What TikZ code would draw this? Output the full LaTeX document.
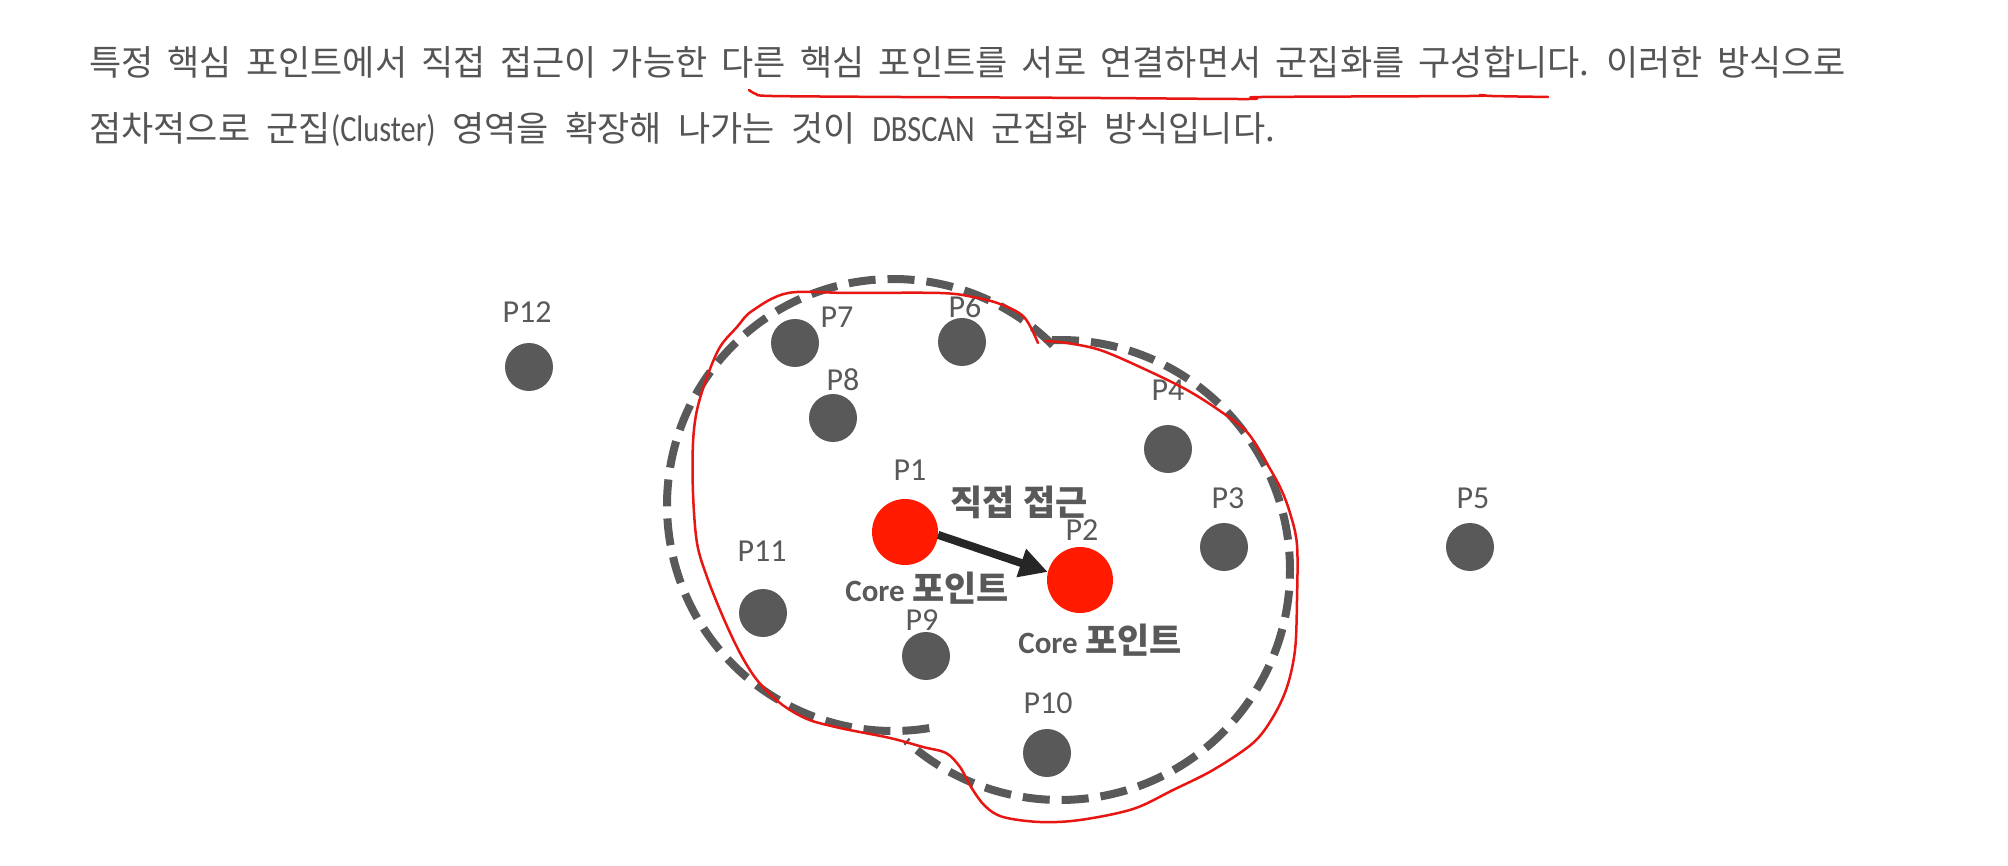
\documentclass[tikz,border=0pt]{standalone}
\usepackage{fontspec}
\setmainfont{Carlito}
\newfontfamily\kr{Noto Sans CJK KR}
\usetikzlibrary{arrows.meta}
\definecolor{dotgray}{HTML}{595959}
\definecolor{txtgray}{HTML}{555555}
\definecolor{corered}{RGB}{255,26,0}
\definecolor{penred}{RGB}{232,22,18}
\definecolor{arrowdark}{HTML}{262626}
\newcommand{\lat}[1]{\scalebox{0.82}[1]{\rmfamily\fontsize{37}{40}\selectfont #1}}
\newcommand{\corept}{{\fontsize{31}{36}\selectfont Core} {\kr\fontsize{35}{36}\selectfont 포인트}}
\newcommand{\widesp}[1]{\spaceskip=#1 plus 0pt minus 0pt\relax}
\begin{document}
\begin{tikzpicture}[x=1pt,y=-1pt,
  gdot/.style={circle,fill=dotgray,minimum size=48pt,inner sep=0pt},
  rdot/.style={circle,fill=corered,minimum size=66pt,inner sep=0pt},
  plabel/.style={text=dotgray,font=\fontsize{32}{36}\selectfont,inner sep=0pt},
  blabel/.style={text=dotgray,font=\fontsize{32}{36}\selectfont\bfseries,inner sep=0pt},
  para/.style={text=txtgray,font=\kr\fontsize{35}{40}\selectfont,inner sep=0pt,anchor=base west},
  clusterline/.style={draw=dotgray,line width=8pt,dash pattern=on 27pt off 12pt},
  penline/.style={draw=penred,line width=2.5pt,line cap=round,line join=round},
  reach/.style={draw=arrowdark,line width=8pt,-{Triangle[length=28pt,width=28pt]}}
]
\useasboundingbox (0,0) rectangle (2008,866);
\fill[white] (0,0) rectangle (2008,866);

% paragraph
\node[para] (line1) at (89,76) {\widesp{14.2pt}특정 핵심 포인트에서 직접 접근이 가능한 다른 핵심 포인트를 서로 연결하면서 군집화를 구성합니다. 이러한 방식으로};
\node[para] (line2) at (89,142) {\widesp{16.5pt}점차적으로 군집\lat{(Cluster)} 영역을 확장해 나가는 것이 \lat{DBSCAN} 군집화 방식입니다.};

% cluster outline (dashed)
\draw[clusterline] (893,505) ++(-45:226) arc[start angle=-45,end angle=-282,radius=226];
\draw[clusterline] (1060,570) ++(-92:230) arc[start angle=-92,end angle=132,radius=230];

% points
\node[gdot] (p12) at (529,367) {};
\node[gdot] (p7) at (795,343) {};
\node[gdot] (p6) at (962,342) {};
\node[gdot] (p8) at (833,418) {};
\node[gdot] (p4) at (1168,449) {};
\node[gdot] (p3) at (1224,547) {};
\node[gdot] (p5) at (1470,547) {};
\node[gdot] (p11) at (763,613) {};
\node[gdot] (p9) at (926,656) {};
\node[gdot] (p10) at (1047,753) {};
\node[rdot] (p1) at (905,532) {};
\node[rdot] (p2) at (1080,580) {};

% labels
\node[plabel] (l12) at (527,312) {P12};
\node[plabel] (l7) at (837,317) {P7};
\node[plabel] (l6) at (965,307) {P6};
\node[plabel] (l8) at (843,380) {P8};
\node[plabel] (l4) at (1168,390) {P4};
\node[plabel] (l1) at (910,470) {P1};
\node[plabel] (l3) at (1228,498) {P3};
\node[plabel] (l5) at (1473,498) {P5};
\node[plabel] (l2) at (1082,530) {P2};
\node[plabel] (l11) at (762,551) {P11};
\node[plabel] (l9) at (922,620) {P9};
\node[plabel] (l10) at (1048,703) {P10};

\node[blabel,font=\kr\fontsize{35}{36}\selectfont\bfseries] (direct) at (1019,502) {직접 접근};
\node[blabel] (core1) at (927,588) {\corept};
\node[blabel] (core2) at (1100,640) {\corept};

% arrow
\draw[reach] (p1.-5) -- (p2.166);

% red hand-drawn outline
\draw[penline] plot[smooth,tension=0.55] coordinates {(1045,341) (1067,343) (1100,350) (1140,367) (1187,390) (1223,413) (1247,432) (1263,457) (1280,487) (1290,513) (1297,545) (1297,600) (1295,650) (1287,687) (1273,717) (1253,743) (1213,770) (1173,790) (1133,809) (1080,820) (1040,822) (1003,817) (985,806) (971,787) (960,767) (946,753) (923,747) (890,738) (840,728) (807,719) (780,703) (757,680) (740,653) (723,617) (707,577) (697,543) (693,493) (693,443) (697,410) (707,377) (720,347) (737,327) (752,311) (788,293) (850,293) (940,293) (973,297) (1000,304) (1024,317) (1038,343)};

% red underline in the paragraph
\draw[penline] plot[smooth,tension=0.5] coordinates {(749,90) (756,94) (772,96) (900,97) (1100,98) (1250,99) (1262,97) (1470,96) (1480,95) (1492,96) (1548,97)};
\end{tikzpicture}
\end{document}
